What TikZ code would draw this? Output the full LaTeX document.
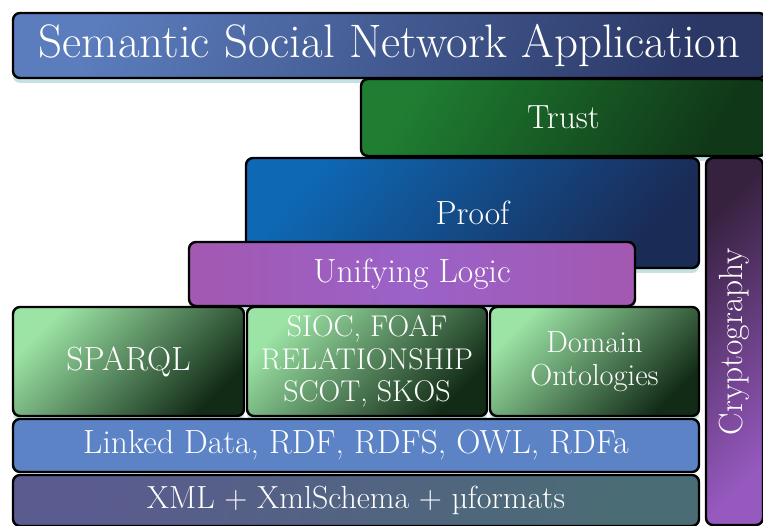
\documentclass[tikz,border=0pt]{standalone}
\usepackage{fontspec}
\usetikzlibrary{shadows}

\definecolor{appA}{HTML}{5B7DBD}
\definecolor{appB}{HTML}{2B3866}
\definecolor{trustA}{HTML}{1F7E31}
\definecolor{trustB}{HTML}{103718}
\definecolor{proofA}{HTML}{0E68B4}
\definecolor{proofB}{HTML}{1A2B56}
\definecolor{logicA}{HTML}{A358B1}
\definecolor{logicB}{HTML}{9B62C8}
\definecolor{ontoA}{HTML}{9CE4A5}
\definecolor{ontoB}{HTML}{122B17}
\definecolor{linked}{HTML}{5B83C6}
\definecolor{xmlA}{HTML}{5A5B8F}
\definecolor{xmlB}{HTML}{4A6C74}
\definecolor{cryptA}{HTML}{9659BF}
\definecolor{cryptB}{HTML}{36213F}

\begin{document}
\begin{tikzpicture}[x=1pt,y=1pt,
  layer/.style={draw=black,line width=2.4pt,rounded corners=7pt,text=white,inner sep=0pt,outer sep=0pt,align=center,anchor=north west,font=\fontsize{33.5}{36}\selectfont},
  glow/.style={drop shadow={shadow xshift=0pt,shadow yshift=-5pt,fill=teal!45,opacity=.5}},
  onto box/.style={layer,glow,top color=ontoA,bottom color=ontoB,shading angle=45,minimum height=109pt}]

  \useasboundingbox (0,0) rectangle (763,-526);
  \clip (0,0) rectangle (763,-526);

  % top of the stack
  \node[layer,glow,font=\fontsize{47}{52}\selectfont,top color=appA,bottom color=appB,shading angle=70,minimum width=753pt,minimum height=65pt] (app) at (13,-13) {Semantic Social Network Application};
  \node[layer,glow,top color=trustA,bottom color=trustB,shading angle=60,minimum width=405pt,minimum height=77pt] (trust) at (361,-79) {Trust};
  \node[layer,top color=cryptB,bottom color=cryptA,shading angle=45,rotate=90,anchor=center,minimum width=367pt,minimum height=57pt] (crypto) at (734.5,-341.5) {Cryptography};
  \node[layer,glow,top color=proofA,bottom color=proofB,shading angle=50,minimum width=453pt,minimum height=110pt] (proof) at (246,-158) {Proof};
  \node[layer,glow,left color=logicA,right color=logicA,middle color=logicB,minimum width=446pt,minimum height=64pt] (logic) at (189,-242) {Unifying Logic};

  % vocabularies
  \node[onto box,minimum width=231pt] (sparql) at (13,-307) {SPARQL};
  \node[onto box,minimum width=240pt,font=\fontsize{30}{32.5}\selectfont] (sioc) at (247,-307) {SIOC, FOAF\\RELATIONSHIP\\SCOT, SKOS};
  \node[onto box,minimum width=209pt,font=\fontsize{30.5}{33}\selectfont] (domain) at (490,-307) {Domain\\Ontologies};

  % data layers
  \node[layer,fill=linked,minimum width=686pt,minimum height=53pt] (linked) at (13,-419) {Linked Data, RDF, RDFS, OWL, RDFa};
  \node[layer,top color=xmlA,bottom color=xmlB,shading angle=70,font=\fontsize{32}{36}\selectfont,minimum width=686pt,minimum height=51pt] (xml) at (13,-475) {XML + XmlSchema + µformats};
\end{tikzpicture}
\end{document}
